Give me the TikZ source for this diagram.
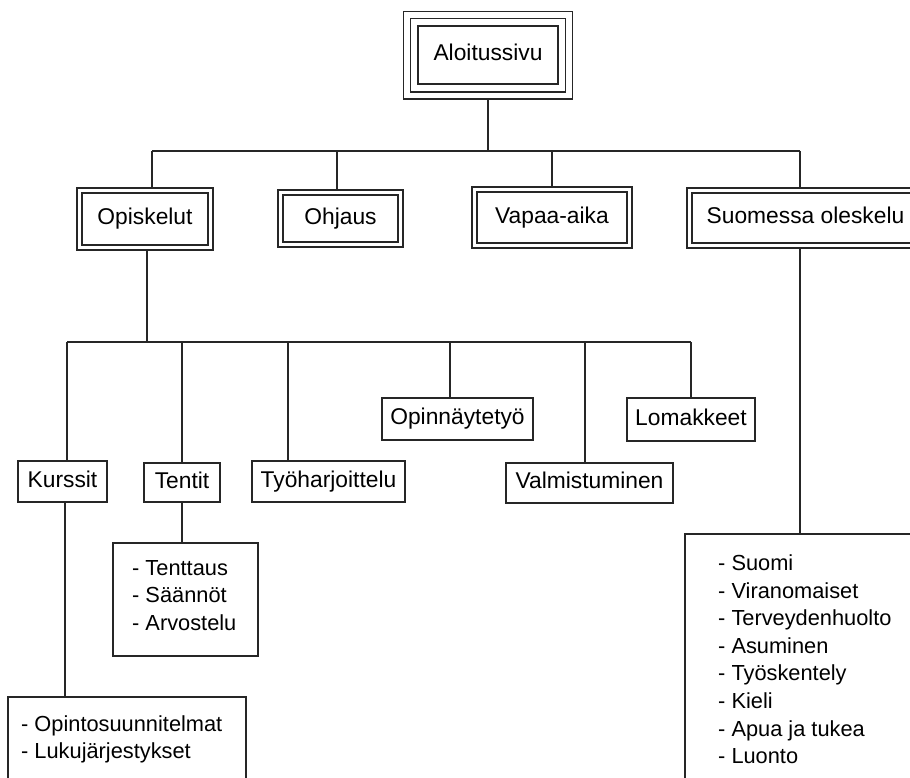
\documentclass[tikz,border=0pt]{standalone}
\usepackage{fontspec}
\setmainfont{Liberation Sans}
\begin{document}
\begin{tikzpicture}[x=1pt,y=-1pt,
  conn/.style={line width=1.2pt,draw=black!85},
  lbl/.style={font=\fontsize{22.8}{27.6}\selectfont,text=black,text height=16.2pt,text depth=4.7pt},
  dbox/.style={lbl,draw=black!85,line width=1.2pt,double,double distance=3.8pt,inner sep=0pt,outer sep=3.1pt},
  tbox/.style={lbl,draw=black!85,line width=1.2pt,double,double distance=5.8pt,inner sep=0pt,outer sep=4.1pt},
  sbox/.style={lbl,draw=black!85,line width=1.2pt,inner sep=0pt,outer sep=0pt},
  lbox/.style={draw=black!85,line width=1.2pt,inner sep=0pt,outer sep=0pt},
  ltext/.style={font=\fontsize{21.8}{27.6}\selectfont,text=black,align=left,inner sep=0pt,anchor=north west}]
\useasboundingbox (0,0) rectangle (910,778);
\clip (0,0) rectangle (910,778);
% top
\node[tbox,minimum width=162pt,minimum height=80.5pt] (aloitus) at (488,55.25) {};
\node[sbox,minimum width=140pt,minimum height=58pt] (aloitusin) at (488,55) {Aloitussivu};
% second row
\node[dbox,minimum width=131pt,minimum height=57pt] (opiskelut) at (145,219) {Opiskelut};
\node[dbox,minimum width=120pt,minimum height=52pt] (ohjaus) at (340.5,218.5) {Ohjaus};
\node[dbox,minimum width=155pt,minimum height=56pt] (vapaa) at (552,217.5) {Vapaa-aika};
\node[dbox,minimum width=232pt,minimum height=55pt] (suomessa) at (805.5,218) {Suomessa oleskelu};
% third row
\node[sbox,minimum width=89pt,minimum height=41pt] (kurssit) at (62.5,481.5) {Kurssit};
\node[sbox,minimum width=76pt,minimum height=39pt] (tentit) at (182,482.5) {Tentit};
\node[sbox,minimum width=153pt,minimum height=41pt] (tyoh) at (328.5,481.5) {Työharjoittelu};
\node[sbox,minimum width=151pt,minimum height=42pt] (opinn) at (457.5,419) {Opinnäytetyö};
\node[sbox,minimum width=167pt,minimum height=40pt] (valm) at (589.5,483) {Valmistuminen};
\node[sbox,minimum width=128pt,minimum height=43pt] (lomak) at (691,419.5) {Lomakkeet};
% lists
\node[lbox,minimum width=145pt,minimum height=113pt] (tlist) at (185.5,599.5) {};
\node[ltext] (tlisttext) at (132,560) {- Tenttaus\\- Säännöt\\- Arvostelu};
\node[lbox,minimum width=238pt,minimum height=110pt] (olist) at (127,752) {};
\node[ltext] (olisttext) at (21,715) {- Opintosuunnitelmat\\- Lukujärjestykset};
\node[lbox,minimum width=260pt,minimum height=280pt] (slist) at (815,674) {};
\node[ltext] (slisttext) at (718,554.5) {- Suomi\\- Viranomaiset\\- Terveydenhuolto\\- Asuminen\\- Työskentely\\- Kieli\\- Apua ja tukea\\- Luonto};
% bus coordinates
\coordinate (b1L) at (152,151);
\coordinate (b1R) at (800,151);
\coordinate (j2) at (337,151);
\coordinate (b2L) at (67,342);
\coordinate (b2R) at (691,342);
\coordinate (j3) at (147,342);
\coordinate (j5) at (288,342);
\coordinate (j6) at (450,342);
\coordinate (j7) at (585,342);
\coordinate (k) at (65,0);
% connectors
\draw[conn] (aloitus.south) -- (aloitus.south |- b1L);
\draw[conn] (b1L) -- (b1R);
\draw[conn] (b1L) -- (b1L |- opiskelut.north);
\draw[conn] (j2) -- (j2 |- ohjaus.north);
\draw[conn] (vapaa.north |- b1L) -- (vapaa.north);
\draw[conn] (b1R) -- (b1R |- suomessa.north);
\draw[conn] (j3 |- opiskelut.south) -- (j3);
\draw[conn] (b2L) -- (b2R);
\draw[conn] (b2L) -- (b2L |- kurssit.north);
\draw[conn] (tentit.north |- b2L) -- (tentit.north);
\draw[conn] (j5) -- (j5 |- tyoh.north);
\draw[conn] (j6) -- (j6 |- opinn.north);
\draw[conn] (j7) -- (j7 |- valm.north);
\draw[conn] (b2R) -- (b2R |- lomak.north);
\draw[conn] (k |- kurssit.south) -- (k |- olist.north);
\draw[conn] (tentit.south) -- (tentit.south |- tlist.north);
\draw[conn] (b1R |- suomessa.south) -- (b1R |- slist.north);
\end{tikzpicture}
\end{document}
